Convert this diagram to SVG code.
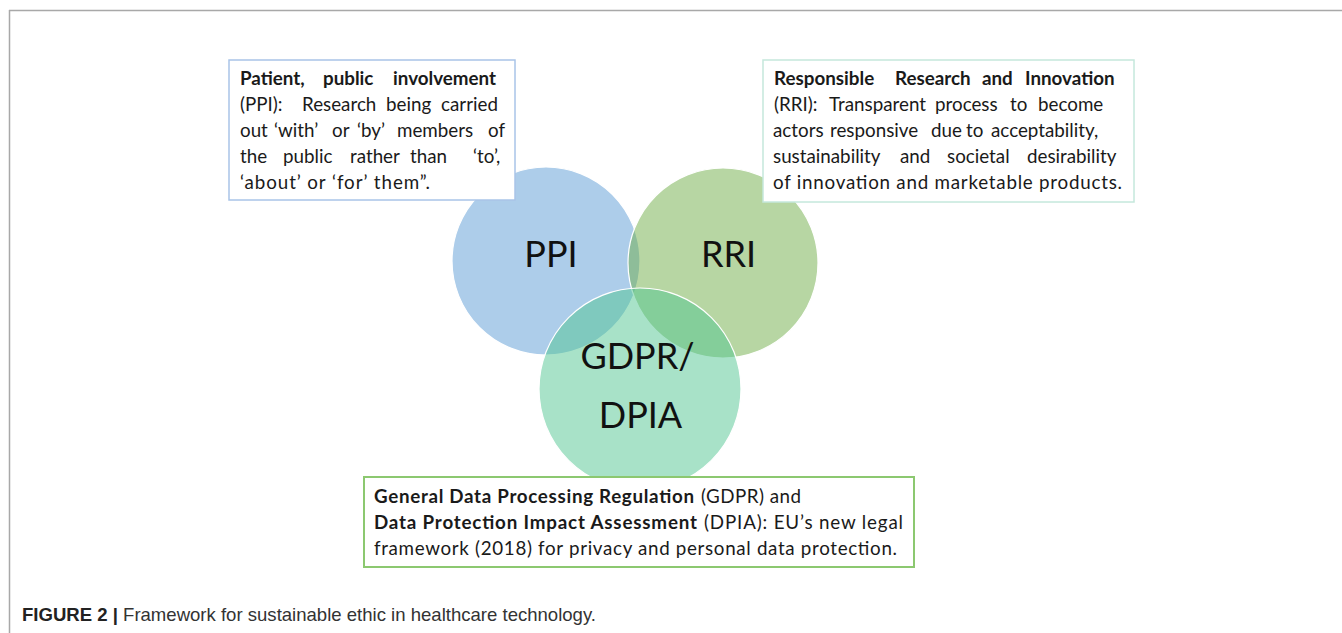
<svg xmlns="http://www.w3.org/2000/svg" width="1342" height="633" viewBox="0 0 1342 633">
<style>
.t{font-family:Lato,"Open Sans","Liberation Sans",sans-serif;font-size:18.8px;fill:#1a1a1a}
.b{font-weight:bold}
.big{font-family:Lato,"Open Sans","Liberation Sans",sans-serif;font-size:36px;fill:#111}
.circ{stroke:#ffffff;stroke-width:1.2;fill-opacity:0.5}
.cap{font-family:"Liberation Sans Narrow","Liberation Sans",Arial,sans-serif;font-size:18.5px;fill:#333}
</style>
<rect x="0" y="0" width="1342" height="633" fill="#ffffff"/>
<g id="frame" fill="none" stroke="#a8a8a8" stroke-width="1.5">
<line x1="9" y1="10.5" x2="1342" y2="10.5"/>
<line x1="9.5" y1="10" x2="9.5" y2="633"/>
</g>
<g id="circle-ppi"><circle class="circ" cx="546" cy="261" r="94" fill="#5b9bd5"/></g>
<g id="circle-rri"><circle class="circ" cx="723" cy="263" r="95" fill="#70ad47"/></g>
<g id="circle-gdpr"><circle class="circ" cx="640" cy="389" r="101" fill="#51c591"/></g>
<g id="labels">
<text class="big" x="551" y="267" text-anchor="middle">PPI</text>
<text class="big" x="728.5" y="267" text-anchor="middle">RRI</text>
<text class="big" x="637.5" y="369" text-anchor="middle">GDPR/</text>
<text class="big" x="640.5" y="428" text-anchor="middle">DPIA</text>
</g>
<g id="box-ppi">
<rect x="229" y="60" width="286" height="140" fill="#ffffff" stroke="#a9c4e8" stroke-width="1.5"/>
<text class="t b" y="85"><tspan x="240">Patient,</tspan><tspan x="323">public</tspan><tspan x="393">involvement</tspan></text>
<text class="t" y="111"><tspan x="240">(PPI):</tspan><tspan x="302">Research</tspan><tspan x="386">being</tspan><tspan x="441">carried</tspan></text>
<text class="t" y="137"><tspan x="240">out</tspan><tspan x="274">‘with’</tspan><tspan x="332">or</tspan><tspan x="357">‘by’</tspan><tspan x="397">members</tspan><tspan x="488">of</tspan></text>
<text class="t" y="163"><tspan x="240">the</tspan><tspan x="283">public</tspan><tspan x="350">rather</tspan><tspan x="410">than</tspan><tspan x="473">‘to’,</tspan></text>
<text class="t" x="240" y="189" textLength="190">‘about’ or ‘for’ them”.</text>
</g>
<g id="box-rri">
<rect x="763" y="60" width="371" height="142" fill="#ffffff" stroke="#c5e8dc" stroke-width="1.5"/>
<text class="t b" y="85"><tspan x="774">Responsible</tspan><tspan x="895">Research</tspan><tspan x="982">and</tspan><tspan x="1025">Innovation</tspan></text>
<text class="t" y="111"><tspan x="774">(RRI):</tspan><tspan x="829">Transparent</tspan><tspan x="935">process</tspan><tspan x="1010">to</tspan><tspan x="1038">become</tspan></text>
<text class="t" y="137"><tspan x="773">actors</tspan><tspan x="830">responsive</tspan><tspan x="931">due</tspan><tspan x="966">to</tspan><tspan x="991">acceptability,</tspan></text>
<text class="t" y="163"><tspan x="773">sustainability</tspan><tspan x="900">and</tspan><tspan x="947">societal</tspan><tspan x="1027">desirability</tspan></text>
<text class="t" x="773" y="189" textLength="349">of innovation and marketable products.</text>
</g>
<g id="box-gdpr">
<rect x="364" y="477" width="550" height="90" fill="#ffffff" stroke="#8cc870" stroke-width="2"/>
<text class="t b" x="374" y="503" textLength="320">General Data Processing Regulation</text>
<text class="t" x="701" y="503" textLength="100">(GDPR) and</text>
<text class="t b" x="374" y="529" textLength="323">Data Protection Impact Assessment</text>
<text class="t" x="704" y="529" textLength="199">(DPIA): EU’s new legal</text>
<text class="t" x="374" y="555" textLength="523">framework (2018) for privacy and personal data protection.</text>
</g>
<g id="caption">
<text class="cap" x="22" y="621" textLength="574" lengthAdjust="spacingAndGlyphs"><tspan font-weight="bold" fill="#222">FIGURE 2 |</tspan> Framework for sustainable ethic in healthcare technology.</text>
</g>
</svg>
